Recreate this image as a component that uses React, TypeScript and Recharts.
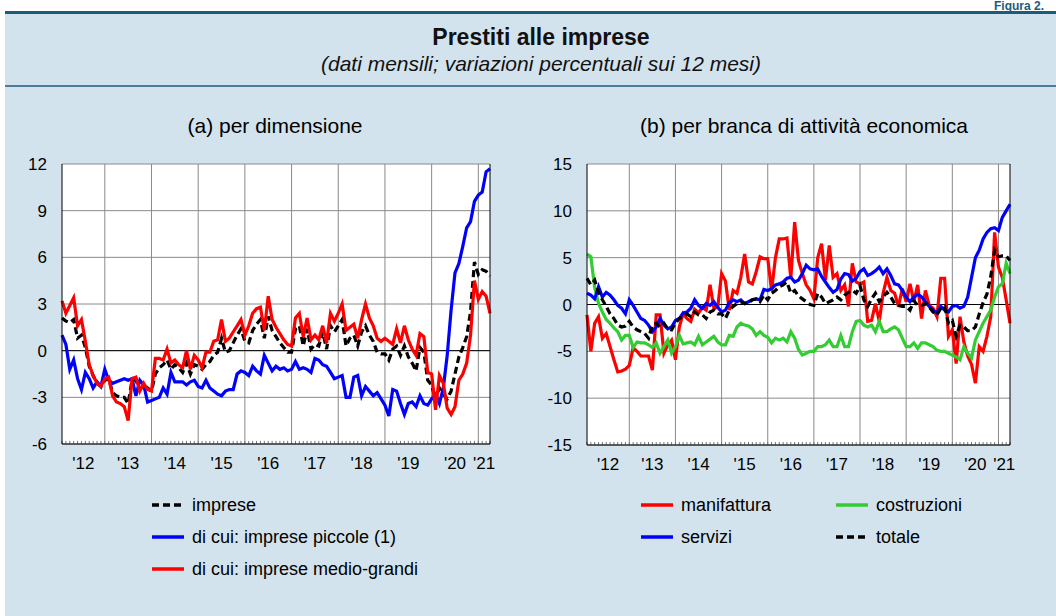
import React from "react";
import { LineChart, Line, XAxis, YAxis, CartesianGrid, ReferenceLine } from "recharts";

const FONT = '"Liberation Sans", Arial, Helvetica, sans-serif';

// monthly, Feb 2012 .. Apr 2021 (index 0 = Feb 2012)
const yearLabels = ["'12", "'13", "'14", "'15", "'16", "'17", "'18", "'19", "'20", "'21"];
const yearLabelPos = [5.5, 17, 29, 41, 53, 65, 77, 89, 101, 108.5];
const yearBounds = [11, 23, 35, 47, 59, 71, 83, 95, 107];

// (a) per dimensione
const imprese = [
  2.1, 1.9, 1.8, 2.0, 0.8, 1.0, 0.2, -1.0, -1.6, -2.1, -2.3,
  -1.9, -1.8, -2.7, -2.9, -3.0, -3.0, -3.4, -1.9, -1.9, -2.5, -2.2, -2.4,
  -2.6, -1.5, -1.1, -0.9, -0.6, -1.2, -0.9, -1.1, -1.4, -0.8, -1.5, -0.9,
  -1.0, -1.2, -0.9, -0.7, -0.3, -0.1, 0.8, -0.1, 0.0, 0.5, 1.0, 1.4,
  0.6, 0.5, 1.3, 1.7, 2.0, 0.8, 2.2, 1.3, 0.9, 0.5, 0.2, -0.1,
  -0.1, 1.4, 1.6, 0.3, 1.4, 0.1, 0.4, 0.3, 1.2, 0.1, 1.6, 1.2,
  1.6, 2.0, 0.3, 0.8, 1.0, 0.3, 1.2, 1.6, 1.0, 0.6, -0.1, -0.2,
  -0.2, -0.6, 0.1, 0.3, -0.3, 0.3, -0.4, -0.8, -1.3, 0.2, -0.1, -1.9,
  -2.2, -3.2, -2.4, -2.8, -3.1, -2.6, -1.5, -0.4, 0.2, 0.9, 2.5, 5.7,
  4.9, 5.2, 5.1, 4.8,
];
const piccole = [
  1.0, 0.4, -1.2, -0.6, -1.8, -2.5, -1.4, -1.8, -2.4, -2.0, -2.3,
  -1.2, -1.9, -2.1, -2.0, -1.9, -1.8, -1.9, -1.8, -2.9, -1.9, -2.2, -3.3,
  -3.2, -3.1, -3.0, -2.4, -2.8, -1.4, -2.0, -2.0, -2.0, -2.2, -2.0, -1.9,
  -2.3, -2.4, -1.9, -2.4, -2.6, -2.8, -2.9, -2.6, -2.5, -2.5, -1.5, -1.3,
  -1.4, -1.6, -1.0, -1.3, -1.5, -0.3, -0.8, -1.3, -1.0, -1.2, -1.1, -1.3,
  -1.2, -0.7, -1.2, -1.1, -1.2, -1.4, -0.5, -0.6, -0.9, -1.0, -1.4, -1.8,
  -1.7, -1.6, -3.0, -3.0, -1.7, -1.6, -2.9, -2.3, -2.6, -2.9, -2.7, -3.1,
  -3.5, -4.2, -2.5, -2.6, -3.4, -4.1, -3.4, -3.3, -3.6, -2.9, -3.4, -3.5,
  -3.1, -2.8, -3.4, -2.4, -0.3, 2.6, 5.0, 5.6, 6.7, 7.9, 8.3, 9.6,
  10.0, 10.2, 11.5, 11.7,
];
const medioGrandi = [
  3.2, 2.4, 2.9, 3.4, 1.6, 2.0, 0.6, -0.9, -1.6, -2.1, -2.3,
  -1.8, -1.7, -2.9, -3.3, -3.4, -3.6, -4.5, -1.8, -1.7, -2.6, -2.1, -2.5,
  -2.6, -0.5, -0.5, -0.6, 0.1, -0.8, -0.6, -0.9, -1.1, 0.0, -1.2, -0.3,
  -0.6, -1.1, -0.1, -0.1, 0.6, 0.7, 2.0, 0.6, 0.8, 1.2, 1.6, 2.0,
  1.0, 1.6, 2.4, 2.7, 2.8, 1.3, 3.5, 2.0, 1.5, 1.1, 0.7, 0.4,
  0.3, 2.1, 2.4, 0.9, 2.1, 0.7, 1.0, 0.7, 1.6, 0.5, 2.4, 1.9,
  2.4, 3.0, 1.3, 1.5, 1.7, 0.8, 2.0, 3.0, 2.1, 1.6, 0.8, 0.6,
  0.8, 0.6, 0.4, 1.4, 0.5, 1.6, 0.7, 0.1, -0.3, 1.1, 0.9, -1.4,
  -1.5, -3.8, -1.6, -2.1, -3.7, -4.1, -3.6, -1.9, -1.5, -0.8, 1.0, 4.5,
  3.3, 3.8, 3.5, 2.4,
];

// (b) per branca di attività economica
const manifattura = [
  -1.1, -5.0, -2.0, -1.3, -3.6, -3.1, -4.5, -5.9, -7.2, -7.1, -6.9,
  -6.5, -4.6, -5.0, -5.5, -5.5, -5.5, -7.0, -1.1, -1.1, -5.2, -4.3, -3.8,
  -5.9, -2.4, -1.0, -1.5, -1.8, -0.5, -0.9, -0.3, -0.6, 2.1, -0.4, -0.3,
  3.3, 2.5, -0.6, 1.5, 1.2, 2.9, 5.4, 2.4, 2.2, 3.5, 5.1, 4.9,
  4.9, 1.5, 5.0, 7.0, 7.0, 7.1, 2.8, 8.8, 4.7, 3.3, 2.1, 1.5,
  0.6, 5.0, 6.5, 2.6, 6.3, 2.9, 3.3, 1.5, 2.1, -0.2, 4.4, 2.4,
  2.2, 2.4, -1.8, -1.7, 0.1, -1.8, 1.2, 2.9, 1.5, 1.2, -0.2, 1.7,
  0.3, 2.2, 0.3, 2.1, -1.5, 1.5, -0.1, -0.4, -1.3, 2.8, 2.8, -3.4,
  -2.7, -6.3, -1.3, -4.0, -5.5, -6.4, -8.4, -4.5, -5.0, -3.4, -1.3, 7.7,
  4.0, 2.9, 0.5, -2.0,
];
const costruzioni = [
  5.4, 5.1, 1.8, 0.1, -0.8, -1.6, -2.0, -2.5, -2.9, -3.8, -3.3,
  -3.3, -4.6, -4.0, -4.1, -4.1, -4.3, -4.6, -4.1, -5.2, -4.5, -3.8, -5.2,
  -4.5, -3.3, -4.2, -4.1, -4.0, -4.3, -3.4, -4.3, -4.0, -3.7, -3.4, -4.0,
  -4.3, -4.3, -3.3, -3.4, -2.4, -2.0, -2.2, -2.3, -2.6, -3.3, -2.9, -3.3,
  -3.5, -4.1, -3.6, -3.8, -3.6, -4.0, -2.9, -3.6, -4.8, -5.4, -5.2, -5.0,
  -5.0, -4.5, -4.5, -4.3, -3.8, -4.5, -4.5, -3.3, -4.5, -4.5, -2.9, -1.8,
  -1.7, -2.2, -2.4, -2.2, -2.9, -1.8, -2.9, -2.9, -2.6, -2.4, -2.7, -3.6,
  -4.5, -4.5, -4.1, -4.7, -4.1, -4.1, -4.3, -4.5, -4.9, -5.0, -5.0, -5.2,
  -5.4, -5.6, -5.9, -4.5, -5.2, -5.7, -3.8, -2.9, -2.0, -1.3, -0.6, 0.8,
  1.9, 2.2, 4.4, 3.3,
];
const servizi = [
  1.2, 1.0, 0.6, 1.9, 0.8, 1.3, 1.0, 0.5, -0.1, -0.4, -1.0,
  0.5, -0.1, -0.8, -1.5, -1.7, -2.2, -2.9, -2.4, -1.5, -2.2, -2.6, -2.4,
  -1.7, -1.5, -0.9, -0.8, -0.4, 0.5, -0.1, -0.4, 0.1, -0.1, 0.3, -0.3,
  -0.8, -0.6, 0.2, 0.5, 0.3, 0.5, 0.1, 0.3, 0.5, 0.6, 0.5, 1.6,
  1.5, 1.7, 2.1, 2.2, 2.4, 2.8, 2.9, 2.4, 2.6, 3.3, 4.2, 3.8,
  3.7, 3.8, 3.0, 2.4, 1.8, 1.3, 1.6, 2.7, 3.3, 3.2, 2.5, 2.8,
  3.5, 3.8, 3.1, 3.3, 3.6, 4.0, 3.3, 3.8, 3.1, 2.2, 2.1, 1.5,
  0.8, 0.3, 0.8, 1.1, 0.8, 0.3, -0.2, -0.6, -0.9, -0.2, -0.6, -0.8,
  -0.2, -0.1, -0.4, -0.2, 0.8, 2.9, 5.0, 5.8, 7.0, 7.7, 8.1, 8.2,
  7.9, 9.3, 10.0, 10.7,
];
const totale = [
  2.8, 2.1, 2.6, 1.3, 0.5, -0.2, -1.0, -1.5, -2.2, -2.4, -2.3,
  -1.8, -2.4, -2.7, -2.9, -3.1, -3.6, -2.2, -2.0, -2.4, -2.0, -2.6, -2.7,
  -2.0, -1.5, -1.3, -1.0, -1.3, -0.8, -1.1, -1.1, -1.5, -0.8, -0.6, -1.0,
  -1.0, -1.5, -0.6, -0.2, 0.1, 0.3, 0.1, 0.2, 0.5, 0.6, 0.3, 1.0,
  0.5, 1.2, 1.5, 1.9, 2.1, 2.4, 1.2, 1.5, 0.9, 0.6, 0.3, 0.0,
  -0.1, 1.2, 0.8, 0.1, 0.3, 0.5, 0.8, 0.5, 1.0, 1.3, 1.5, 1.2,
  2.0, 0.5, -0.2, 0.6, 1.2, 0.3, 0.8, 1.3, 0.8, 0.1, -0.1, -0.2,
  -0.2, -0.6, 0.4, -0.1, -0.1, 0.1, -0.3, -0.8, -1.1, -0.4, -0.2, -2.0,
  -1.7, -3.4, -2.2, -2.4, -2.8, -2.8, -2.4, -1.0, 0.2, 1.1, 3.0, 5.8,
  5.1, 5.2, 5.2, 4.7,
];

const leftTicks = [-6, -3, 0, 3, 6, 9, 12];
const rightTicks = [-15, -10, -5, 0, 5, 10, 15];

const dataA = imprese.map((v, i) => ({ t: i, imprese: v, piccole: piccole[i], medio: medioGrandi[i] }));
const dataB = manifattura.map((v, i) => ({
  t: i,
  manifattura: v,
  costruzioni: costruzioni[i],
  servizi: servizi[i],
  totale: totale[i],
}));
const monthIdx = imprese.map((_, i) => i);

const BG = "#d3e3ed";
const TEAL = "#1d5b7b";
const TICK_FS = 17;

const RightTick = (props: any) => {
  const { x, y, payload, off } = props;
  return (
    <text x={x + off} y={y} dy="0.355em" textAnchor="end" fontSize={TICK_FS} fontFamily={FONT} fill="#000">
      {payload.value}
    </text>
  );
};

interface PanelProps {
  data: any[];
  ticks: number[];
  leftW: number;
  rightW: number;
  width: number;
  xAxisH: number;
  rightOff: number;
  tickLen: number;
  children: React.ReactNode;
}

const Panel = ({ data, ticks, leftW, rightW, width, xAxisH, rightOff, tickLen, children }: PanelProps) => {
  const lo = ticks[0];
  const hi = ticks[ticks.length - 1];
  return (
    <LineChart width={width} height={330} data={data} margin={{ top: 14, right: 0, bottom: 0, left: 0 }}>
      <CartesianGrid
        vertical
        stroke="#8a8a8a"
        fill="#ffffff"
        verticalCoordinatesGenerator={({ offset }: any) =>
          yearBounds.map((b) => offset.left + (b / 110) * offset.width)
        }
      />
      <CartesianGrid
        vertical={false}
        stroke="#000"
        horizontalCoordinatesGenerator={({ offset }: any) => [offset.top + (hi / (hi - lo)) * offset.height]}
      />
      <XAxis
        dataKey="t"
        type="number"
        domain={[0, 110]}
        ticks={yearLabelPos}
        tickFormatter={(v: number) => yearLabels[yearLabelPos.indexOf(v)]}
        interval={0}
        height={xAxisH}
        tickLine={false}
        tickSize={0}
        tickMargin={13}
        axisLine={{ stroke: "#000" }}
        tick={{ fontSize: TICK_FS, fill: "#000", fontFamily: FONT }}
      />
      <YAxis
        domain={[lo, hi]}
        ticks={ticks}
        interval={0}
        width={leftW}
        tickLine={false}
        tickSize={0}
        tickMargin={15}
        axisLine={{ stroke: "#000" }}
        tick={{ fontSize: TICK_FS, fill: "#000", fontFamily: FONT }}
      />
      <YAxis
        yAxisId="r"
        orientation="right"
        domain={[lo, hi]}
        ticks={ticks}
        interval={0}
        width={rightW}
        tickLine={false}
        tickSize={0}
        tickMargin={0}
        axisLine={{ stroke: "#000" }}
        tick={(p: any) => <RightTick {...p} off={rightOff} />}
      />
      {monthIdx.map((m) => (
        <ReferenceLine
          key={m}
          segment={[
            { x: m, y: lo },
            { x: m, y: lo + tickLen },
          ]}
          stroke="#777"
          strokeWidth={1}
        />
      ))}
      {children}
    </LineChart>
  );
};

const LegendItem = ({ x, y, color, dashed, label }: { x: number; y: number; color: string; dashed?: boolean; label: string }) => (
  <div style={{ position: "absolute", left: x, top: y - 11, height: 22, display: "flex", alignItems: "center" }}>
    <svg width={34} height={20} style={{ display: "block" }}>
      <line x1={1} y1={10} x2={33} y2={10} stroke={color} strokeWidth={3.5} strokeDasharray={dashed ? "7 4" : undefined} />
    </svg>
    <span style={{ marginLeft: 7, fontSize: 18, fontFamily: FONT, color: "#000", whiteSpace: "nowrap" }}>{label}</span>
  </div>
);

export default function App() {
  const lw = 3.2;
  return (
    <div style={{ position: "absolute", left: 0, top: 0, width: 1056, height: 616, background: "#fff", overflow: "hidden", fontFamily: FONT }}>
      <div style={{ position: "absolute", left: 5, top: 11, width: 1051, height: 605, background: BG }} />
      <div style={{ position: "absolute", left: 5, top: 11, width: 1051, height: 3, background: TEAL }} />
      <div style={{ position: "absolute", left: 5, top: 85, width: 1051, height: 2, background: "#4d7c9b" }} />
      <div style={{ position: "absolute", left: 994, top: 0, fontSize: 12, lineHeight: "12px", fontWeight: "bold", color: TEAL, whiteSpace: "nowrap" }}>
        Figura 2.
      </div>

      <div style={{ position: "absolute", left: 291, top: 24, width: 500, textAlign: "center", fontSize: 23, fontWeight: "bold", color: "#111" }}>
        Prestiti alle imprese
      </div>
      <div style={{ position: "absolute", left: 191, top: 52, width: 700, textAlign: "center", fontSize: 21, fontStyle: "italic", color: "#111" }}>
        (dati mensili; variazioni percentuali sui 12 mesi)
      </div>

      <div style={{ position: "absolute", left: 75, top: 114, width: 400, textAlign: "center", fontSize: 21, color: "#000" }}>
        (a) per dimensione
      </div>
      <div style={{ position: "absolute", left: 554, top: 114, width: 500, textAlign: "center", fontSize: 21, color: "#000" }}>
        (b) per branca di attività economica
      </div>

      <div style={{ position: "absolute", left: 0, top: 150 }}>
        <Panel data={dataA} ticks={leftTicks} leftW={62} rightW={50} width={540} xAxisH={36} rightOff={37} tickLen={0.2}>
          <Line dataKey="imprese" stroke="#000" strokeWidth={lw} strokeDasharray="7 4" dot={false} isAnimationActive={false} />
          <Line dataKey="piccole" stroke="#0000ff" strokeWidth={lw} dot={false} isAnimationActive={false} />
          <Line dataKey="medio" stroke="#ff0000" strokeWidth={lw} dot={false} isAnimationActive={false} />
        </Panel>
      </div>

      <div style={{ position: "absolute", left: 540, top: 150 }}>
        <Panel data={dataB} ticks={rightTicks} leftW={47} rightW={46} width={516} xAxisH={35} rightOff={42} tickLen={0.32}>
          <Line dataKey="manifattura" stroke="#ff0000" strokeWidth={lw} dot={false} isAnimationActive={false} />
          <Line dataKey="costruzioni" stroke="#33cc33" strokeWidth={lw} dot={false} isAnimationActive={false} />
          <Line dataKey="servizi" stroke="#0000ff" strokeWidth={lw} dot={false} isAnimationActive={false} />
          <Line dataKey="totale" stroke="#000" strokeWidth={lw} strokeDasharray="7 4" dot={false} isAnimationActive={false} />
        </Panel>
      </div>

      <LegendItem x={151} y={505} color="#000" dashed label="imprese" />
      <LegendItem x={151} y={537} color="#0000ff" label="di cui: imprese piccole (1)" />
      <LegendItem x={151} y={569} color="#ff0000" label="di cui: imprese medio-grandi" />
      <LegendItem x={640} y={505} color="#ff0000" label="manifattura" />
      <LegendItem x={640} y={537} color="#0000ff" label="servizi" />
      <LegendItem x={835} y={505} color="#33cc33" label="costruzioni" />
      <LegendItem x={835} y={537} color="#000" dashed label="totale" />
    </div>
  );
}
